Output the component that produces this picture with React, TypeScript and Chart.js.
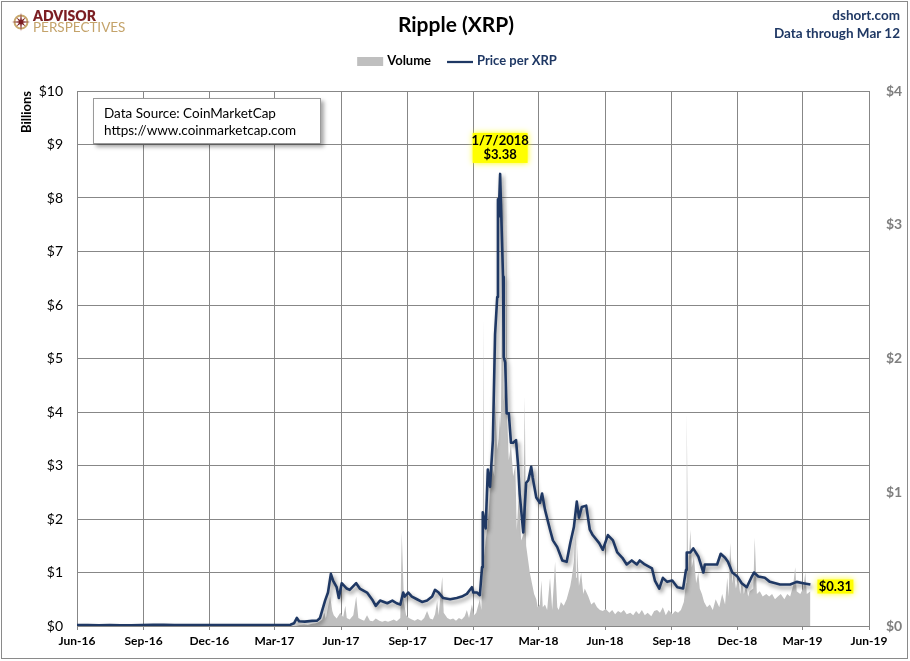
import React, { useEffect, useRef } from "react";
import { Chart, registerables } from "chart.js";

Chart.register(...registerables);

// ---------------- data ----------------
const START_DATE = "2016-06-01";

const xTickDates = [
  "2016-06-01", "2016-09-01", "2016-12-01", "2017-03-01", "2017-06-01", "2017-09-01",
  "2017-12-01", "2018-03-01", "2018-06-01", "2018-09-01", "2018-12-01", "2019-03-01", "2019-06-01",
];
const xTickLabels = [
  "Jun-16", "Sep-16", "Dec-16", "Mar-17", "Jun-17", "Sep-17",
  "Dec-17", "Mar-18", "Jun-18", "Sep-18", "Dec-18", "Mar-19", "Jun-19",
];

// days since START_DATE
const priceDays = [
  0, 15, 30, 45, 60, 75, 90, 105, 120, 135, 150, 165, 180, 195, 210, 225, 240, 255, 270, 285,
  295, 300, 304, 307, 315, 325, 332, 336, 343, 347, 351, 354, 359, 362, 366, 373, 377, 386, 391, 401,
  409, 413, 419, 429, 436, 442, 447, 451, 453, 458, 463, 470, 477, 484, 491, 495, 500, 506, 516, 525,
  532, 539, 546, 548, 553, 557, 560, 561, 565, 568, 571, 575, 578, 581, 582, 583, 585, 589, 590, 592,
  594, 597, 600, 603, 607, 610, 612, 617, 621, 624, 628, 630, 635, 640, 643, 647, 654, 658, 664, 671,
  677, 682, 687, 691, 694, 698, 704, 709, 713, 722, 727, 734, 741, 747, 754, 760, 767, 774, 778, 785,
  795, 799, 805, 810, 816, 823, 830, 838, 842, 843, 848, 852, 859, 866, 868, 875, 885, 890, 896, 900,
  906, 913, 919, 926, 933, 936, 942, 951, 958, 972, 986, 995, 1004, 1014,
];
const priceValues = [
  0.0065, 0.007, 0.006, 0.0065, 0.006, 0.0058, 0.007, 0.0095, 0.009, 0.008, 0.0075, 0.008, 0.007, 0.0065, 0.0065, 0.0068, 0.0065, 0.0062, 0.007, 0.0075,
  0.009, 0.02, 0.06, 0.035, 0.033, 0.038, 0.04, 0.06, 0.19, 0.25, 0.39, 0.34, 0.29, 0.21, 0.32, 0.28, 0.27, 0.32, 0.28, 0.25,
  0.19, 0.15, 0.19, 0.17, 0.19, 0.17, 0.16, 0.25, 0.22, 0.25, 0.22, 0.2, 0.18, 0.19, 0.22, 0.27, 0.25, 0.21, 0.2, 0.21,
  0.22, 0.24, 0.29, 0.25, 0.25, 0.23, 0.44, 0.85, 0.73, 1.17, 1.04, 1.39, 2.18, 2.46, 3.19, 3.06, 3.38, 2.61, 2.01, 1.97,
  1.59, 1.59, 1.37, 1.37, 1.39, 1.19, 0.99, 0.7, 1.07, 1.09, 1.19, 1.11, 0.96, 0.92, 0.99, 0.87, 0.72, 0.64, 0.59, 0.49,
  0.48, 0.62, 0.74, 0.93, 0.81, 0.89, 0.9, 0.72, 0.68, 0.62, 0.57, 0.68, 0.64, 0.55, 0.51, 0.46, 0.49, 0.46, 0.49, 0.46,
  0.43, 0.34, 0.28, 0.36, 0.33, 0.34, 0.29, 0.28, 0.42, 0.55, 0.55, 0.58, 0.52, 0.4, 0.46, 0.46, 0.46, 0.54, 0.51, 0.48,
  0.4, 0.37, 0.32, 0.29, 0.37, 0.4, 0.37, 0.36, 0.33, 0.31, 0.31, 0.33, 0.32, 0.31,
];

const volumeDays = [
  303, 308, 314, 319, 325, 330, 335, 339, 342, 344, 347, 350, 353, 355, 359, 364, 368, 371, 373, 377,
  382, 386, 389, 393, 397, 401, 405, 409, 413, 418, 422, 426, 430, 434, 438, 442, 447, 449, 452, 455,
  459, 463, 467, 471, 476, 480, 484, 488, 492, 495, 498, 500, 505, 507, 512, 516, 520, 524, 528, 532,
  536, 539, 542, 546, 549, 552, 554, 557, 559, 561, 562, 563, 565, 568, 571, 574, 577, 578, 581, 583,
  585, 586, 589, 590, 592, 593, 595, 597, 600, 603, 606, 608, 611, 614, 617, 619, 621, 624, 626, 629,
  632, 635, 637, 640, 642, 644, 647, 650, 654, 657, 661, 664, 666, 669, 673, 677, 682, 684, 687, 689,
  690, 691, 694, 697, 700, 702, 707, 711, 715, 719, 723, 727, 731, 736, 740, 744, 748, 752, 756, 760,
  765, 769, 773, 777, 781, 785, 789, 794, 798, 802, 806, 810, 814, 818, 823, 827, 831, 835, 839, 842,
  843, 845, 848, 850, 853, 856, 859, 861, 864, 867, 871, 875, 879, 883, 888, 892, 896, 899, 901, 903,
  906, 908, 911, 914, 917, 919, 922, 925, 928, 930, 935, 937, 940, 944, 948, 953, 957, 961, 965, 969,
  973, 978, 982, 986, 990, 993, 995, 1000, 1004, 1007, 1009, 1014,
];
const volumeValues = [
  0, 0.02, 0.03, 0.02, 0.04, 0.05, 0.08, 0.12, 0.25, 0.14, 0.35, 0.55, 0.28, 0.2, 0.14, 0.25, 0.17, 0.38, 0.15, 0.12,
  0.2, 0.55, 0.15, 0.12, 0.1, 0.2, 0.1, 0.09, 0.14, 0.1, 0.08, 0.1, 0.08, 0.1, 0.12, 0.09, 0.15, 1.75, 0.45, 0.2,
  0.15, 0.12, 0.1, 0.13, 0.1, 0.15, 0.28, 0.14, 0.12, 0.22, 0.47, 0.2, 0.92, 0.25, 0.15, 0.12, 0.14, 0.1, 0.15, 0.12,
  0.18, 0.3, 0.15, 0.4, 0.2, 0.25, 0.35, 0.5, 0.3, 1.2, 5.8, 1.3, 1.6, 1.9, 2.5, 3.0, 2.8, 4.2, 3.3, 3.5,
  4.0, 3.7, 8.5, 4.2, 4.6, 8.6, 3.8, 3.1, 3.4, 2.8, 3.0, 1.8, 2.5, 1.6, 1.7, 4.3, 1.5, 1.2, 1.0, 0.8,
  0.6, 0.5, 0.35, 0.4, 0.85, 0.35, 0.4, 0.3, 0.9, 0.3, 1.2, 0.35, 0.3, 0.45, 0.38, 0.5, 0.75, 0.9, 1.2, 1.7,
  0.9, 1.6, 0.75, 1.0, 0.6, 0.7, 0.55, 0.4, 0.45, 0.35, 0.3, 0.28, 0.32, 0.25, 0.3, 0.22, 0.28, 0.25, 0.3, 0.22,
  0.25, 0.2, 0.28, 0.22, 0.3, 0.2, 0.25, 0.18, 0.28, 0.3, 0.25, 0.35, 0.2, 0.3, 0.22, 0.28, 0.25, 0.3, 0.45, 0.8,
  4.0, 1.0, 1.8, 1.1, 1.3, 0.8, 1.0, 0.7, 0.6, 0.45, 0.35, 0.4, 0.3, 0.5, 0.35, 0.6, 0.4, 0.9, 0.55, 1.55,
  0.8, 1.0, 0.7, 0.9, 0.6, 0.85, 0.6, 0.75, 0.55, 0.65, 0.7, 1.65, 0.6, 0.65, 0.55, 0.6, 0.55, 0.6, 0.5, 0.55,
  0.6, 0.5, 0.6, 0.55, 0.75, 1.1, 0.65, 0.6, 0.7, 1.0, 0.6, 0.65,
];

const leftTickMax = 10;
const rightTickMax = 4;
const peakDay = 585;
const peakDateLabel = "1/7/2018";
const peakPrice = 3.38;

// ---------------- styling ----------------
const FONT = "Lato, 'Noto Sans', 'DejaVu Sans', sans-serif";
const NAVY = "#1F3864";
const GRID = "#878787";
const VOL_GRAY = "#BFBFBF";

function dayOf(s: string): number {
  return Math.round((Date.parse(s) - Date.parse(START_DATE)) / 86400000);
}

const lineShadowPlugin = {
  id: "lineShadow",
  beforeDatasetDraw(chart: any, args: any) {
    if (chart.data.datasets[args.index].yAxisID === "y1") {
      const ctx = chart.ctx;
      ctx.save();
      ctx.shadowColor = "rgba(0,0,0,0.45)";
      ctx.shadowBlur = 4;
      ctx.shadowOffsetX = 2;
      ctx.shadowOffsetY = 3;
    }
  },
  afterDatasetDraw(chart: any, args: any) {
    if (chart.data.datasets[args.index].yAxisID === "y1") {
      chart.ctx.restore();
    }
  },
};

const legendPlugin = {
  id: "topLegend",
  afterDraw(chart: any) {
    const ctx = chart.ctx;
    const vol = chart.data.datasets[0];
    const price = chart.data.datasets[1];
    ctx.save();
    ctx.font = `bold 13px ${FONT}`;
    ctx.textBaseline = "middle";
    ctx.textAlign = "left";
    const w1 = ctx.measureText(vol.label).width;
    const w2 = ctx.measureText(price.label).width;
    const total = 26 + 4 + w1 + 16 + 26 + 4 + w2;
    let x = 457 - total / 2;
    const y = 61;
    ctx.fillStyle = vol.backgroundColor;
    ctx.fillRect(x, y - 4, 26, 9);
    x += 30;
    ctx.fillStyle = "#000";
    ctx.fillText(vol.label, x, y);
    x += w1 + 16;
    ctx.strokeStyle = price.borderColor;
    ctx.lineWidth = 2.25;
    ctx.beginPath();
    ctx.moveTo(x, y + 1);
    ctx.lineTo(x + 26, y + 1);
    ctx.stroke();
    x += 30;
    ctx.fillStyle = NAVY;
    ctx.fillText(price.label, x, y);
    ctx.restore();
  },
};

function yellowLabel(ctx: any, lines: string[], cx: number, cy: number, w: number, lh: number) {
  const h = lines.length * lh + 2;
  ctx.save();
  ctx.shadowColor = "rgba(255,255,0,0.95)";
  ctx.shadowBlur = 6;
  ctx.fillStyle = "#FFFF00";
  ctx.fillRect(cx - w / 2, cy - h / 2, w, h);
  ctx.restore();
  ctx.save();
  ctx.font = `bold 13px ${FONT}`;
  ctx.fillStyle = "#000";
  ctx.textAlign = "center";
  ctx.textBaseline = "middle";
  lines.forEach((t, i) => {
    ctx.fillText(t, cx, cy - h / 2 + 1 + lh * (i + 0.5));
  });
  ctx.restore();
}

const annotationPlugin = {
  id: "annos",
  afterDraw(chart: any) {
    const { ctx, scales } = chart;
    const px = scales.x.getPixelForValue(peakDay);
    const py = scales.y1.getPixelForValue(peakPrice);
    yellowLabel(ctx, [peakDateLabel, `$${peakPrice.toFixed(2)}`], px, py - 26, 55, 14);
    const n = priceDays.length - 1;
    const lx = scales.x.getPixelForValue(priceDays[n]);
    const ly = scales.y1.getPixelForValue(priceValues[n]);
    yellowLabel(ctx, [`$${priceValues[n].toFixed(2)}`], lx + 25, ly + 2, 36, 12);
  },
};

function ChartCanvas() {
  const ref = useRef<HTMLCanvasElement | null>(null);
  useEffect(() => {
    if (!ref.current) return;
    const tickDays = xTickDates.map(dayOf);
    const chart = new Chart(ref.current, {
      type: "line",
      data: {
        datasets: [
          {
            label: "Volume",
            data: volumeDays.map((d, i) => ({ x: d, y: volumeValues[i] })),
            yAxisID: "y",
            backgroundColor: VOL_GRAY,
            borderColor: VOL_GRAY,
            borderWidth: 0,
            fill: "origin",
            pointRadius: 0,
            tension: 0,
            order: 2,
          },
          {
            label: "Price per XRP",
            data: priceDays.map((d, i) => ({ x: d, y: priceValues[i] })),
            yAxisID: "y1",
            borderColor: NAVY,
            backgroundColor: NAVY,
            borderWidth: 2.6,
            borderJoinStyle: "round",
            fill: false,
            pointRadius: 0,
            tension: 0,
            order: 1,
          },
        ] as any,
      },
      options: {
        responsive: false,
        animation: false,
        devicePixelRatio: 1,
        layout: { padding: { left: 15, right: 0, top: 91, bottom: 0 } },
        plugins: {
          legend: { display: false },
          title: { display: false },
          tooltip: { enabled: false },
        },
        scales: {
          x: {
            type: "linear",
            min: tickDays[0],
            max: tickDays[tickDays.length - 1],
            afterBuildTicks: (scale: any) => {
              scale.ticks = tickDays.map((v) => ({ value: v }));
            },
            afterFit: (scale: any) => {
              scale.height = 35;
            },
            grid: { color: GRID, lineWidth: 1, drawTicks: true, tickLength: 4, tickColor: GRID },
            border: { color: GRID, width: 1 },
            ticks: {
              autoSkip: false,
              maxRotation: 0,
              minRotation: 0,
              padding: 4,
              color: "#000",
              font: { family: FONT, size: 12, weight: "bold" },
              callback: (_v: any, i: number) => xTickLabels[i],
            },
          },
          y: {
            type: "linear",
            position: "left",
            min: 0,
            max: leftTickMax,
            afterFit: (scale: any) => {
              scale.width = 62;
            },
            grid: { color: GRID, lineWidth: 1, drawTicks: false },
            border: { color: GRID, width: 1 },
            title: {
              display: true,
              text: "Billions",
              align: "end",
              color: "#000",
              font: { family: FONT, size: 13, weight: "bold" },
            },
            ticks: {
              stepSize: 1,
              padding: 14,
              color: "#000",
              font: { family: FONT, size: 14 },
              callback: (v: any) => `$${v}`,
            },
          },
          y1: {
            type: "linear",
            position: "right",
            min: 0,
            max: rightTickMax,
            afterFit: (scale: any) => {
              scale.width = 41;
            },
            grid: { display: false, drawTicks: false },
            border: { color: GRID, width: 1 },
            ticks: {
              stepSize: 1,
              padding: 17,
              color: "#7F7F7F",
              font: { family: FONT, size: 14, weight: "bold" },
              callback: (v: any) => `$${v}`,
            },
          },
        },
      } as any,
      plugins: [lineShadowPlugin, legendPlugin, annotationPlugin],
    });
    return () => chart.destroy();
  }, []);
  return <canvas ref={ref} width={910} height={661} style={{ position: "absolute", left: 0, top: 0, width: 910, height: 661 }} />;
}

function Logo() {
  const pts: string[] = [];
  for (let i = 0; i < 16; i++) {
    const r = i % 2 === 0 ? (i % 4 === 0 ? 9.5 : 6.5) : 2.2;
    const a = (i * Math.PI) / 8 - Math.PI / 2;
    pts.push(`${10 + r * Math.cos(a)},${10 + r * Math.sin(a)}`);
  }
  return (
    <div style={{ position: "absolute", left: 11, top: 10, height: 24 }}>
      <svg width={20} height={20} style={{ position: "absolute", left: 0, top: 2 }}>
        <circle cx={10} cy={10} r={6.5} fill="none" stroke="#C9A96E" strokeWidth={2} />
        <polygon points={pts.join(" ")} fill="#7B1E22" />
      </svg>
      <div style={{ position: "absolute", left: 22, top: 0, whiteSpace: "nowrap", fontFamily: FONT, fontWeight: 800, fontSize: 14, lineHeight: "12px", color: "#7B1E22" }}>
        ADVISOR
      </div>
      <div style={{ position: "absolute", left: 22, top: 11, whiteSpace: "nowrap", fontFamily: FONT, fontWeight: 400, fontSize: 13.5, lineHeight: "12px", color: "#C4A36A" }}>
        PERSPECTIVES
      </div>
    </div>
  );
}

export default function App() {
  useEffect(() => {
    document.body.style.margin = "0";
  }, []);
  return (
    <div style={{ position: "relative", width: 910, height: 661, background: "#fff", overflow: "hidden", fontFamily: FONT }}>
      <ChartCanvas />
      <div style={{ position: "absolute", left: 1, top: 1, width: 907, height: 658, boxSizing: "border-box", border: "1px solid #8a8a8a", pointerEvents: "none" }} />
      <Logo />
      <div style={{ position: "absolute", left: 0, top: 12, width: 912, textAlign: "center", fontWeight: 700, fontSize: 21, lineHeight: "24px", color: "#000" }}>
        Ripple (XRP)
      </div>
      <div style={{ position: "absolute", right: 10, top: 6, textAlign: "right", fontWeight: 700, fontSize: 13.5, lineHeight: "18px", color: NAVY }}>
        <div>dshort.com</div>
        <div>Data through Mar 12</div>
      </div>
      <div
        style={{
          position: "absolute",
          left: 93,
          top: 98,
          width: 228,
          height: 46,
          boxSizing: "border-box",
          border: "1px solid #9a9a9a",
          background: "#fff",
          boxShadow: "3px 3px 4px rgba(0,0,0,0.35)",
          padding: "6px 0 0 10px",
          fontSize: 13.5,
          lineHeight: "17px",
          color: "#000",
          whiteSpace: "nowrap",
        }}
      >
        <div>Data Source: CoinMarketCap</div>
        <div>https://www.coinmarketcap.com</div>
      </div>
    </div>
  );
}
